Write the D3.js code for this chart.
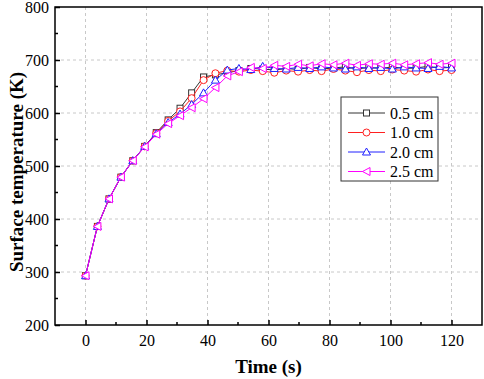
<!DOCTYPE html>
<html>
<head>
<meta charset="utf-8">
<script src="https://cdn.jsdelivr.net/npm/d3@7"></script>
<style>
  body { margin: 0; background: #fff; }
  text { font-family: "Liberation Serif", "Times New Roman", serif; }
</style>
</head>
<body>
<div id="chart"></div>
<script>
// time points (s)
const times = [0, 3.9, 7.7, 11.6, 15.5, 19.4, 23.2, 27.1, 31.0, 34.8, 38.7, 42.6, 46.5, 50.3, 54.2, 58.1,
  61.9, 65.8, 69.7, 73.5, 77.4, 81.3, 85.2, 89.0, 92.9, 96.8, 100.6, 104.5, 108.4, 112.3, 116.1, 120];

const t05 = [293, 386, 438, 479, 510, 537, 563, 587, 609, 638, 668, 672, 676, 680, 684, 683,
  681, 684, 682, 686, 683, 685, 687, 683, 686, 684, 687, 684, 685, 688, 685, 686];
const t10 = [293, 386, 438, 479, 510, 537, 562, 585, 603, 628, 662, 675, 680, 678, 681, 679,
  676, 680, 678, 681, 679, 683, 680, 677, 681, 679, 682, 680, 678, 682, 679, 681];
const t20 = [293, 386, 438, 479, 510, 537, 561, 582, 598, 616, 638, 662, 681, 684, 682, 688,
  684, 683, 686, 684, 687, 685, 683, 687, 684, 686, 683, 687, 685, 684, 688, 685];
const t25 = [293, 386, 438, 479, 510, 536, 560, 580, 595, 610, 627, 648, 670, 678, 686, 684,
  690, 688, 692, 689, 693, 691, 694, 690, 693, 692, 694, 691, 693, 695, 692, 694];

const labels = ["0.5 cm", "1.0 cm", "2.0 cm", "2.5 cm"];
const colors = ["#333333", "#ff2020", "#2020ff", "#ff00ff"];
const symbols = ["square", "circle", "triangle", "left"];
const seriesVals = [t05, t10, t20, t25];

const xTicks = [0, 20, 40, 60, 80, 100, 120];
const yTicks = [200, 300, 400, 500, 600, 700, 800];

const W = 484, H = 379;
const margin = {top: 7, right: 2, bottom: 54, left: 55};
const width = W - margin.left - margin.right;
const height = H - margin.top - margin.bottom;

const svg = d3.select("#chart").append("svg")
    .attr("width", W)
    .attr("height", H);

const g = svg.append("g")
    .attr("transform", `translate(${margin.left},${margin.top})`);

const x = d3.scaleLinear().domain([-10, 130]).range([0, width]);
const y = d3.scaleLinear().domain([200, 800]).range([height, 0]);

// grid
g.append("g").selectAll("line")
    .data(xTicks)
    .enter().append("line")
    .attr("x1", d => x(d)).attr("x2", d => x(d))
    .attr("y1", 0).attr("y2", height)
    .attr("stroke", "#c8c8c8")
    .attr("stroke-dasharray", "3,3");
g.append("g").selectAll("line")
    .data(yTicks.slice(1, -1))
    .enter().append("line")
    .attr("x1", 0).attr("x2", width)
    .attr("y1", d => y(d)).attr("y2", d => y(d))
    .attr("stroke", "#c8c8c8")
    .attr("stroke-dasharray", "3,3");

// axes: ticks point inward
const xAxis = d3.axisBottom(x).tickValues(xTicks).tickSize(-5).tickPadding(10).tickFormat(d3.format("d"));
const yAxis = d3.axisLeft(y).tickValues(yTicks).tickSize(-5).tickPadding(6);

const gx = g.append("g")
    .attr("transform", `translate(0,${height})`)
    .call(xAxis);
const gy = g.append("g").call(yAxis);

[gx, gy].forEach(a => {
    a.select(".domain").remove();
    a.selectAll("line").attr("stroke", "#000").attr("stroke-width", 1.5);
    a.selectAll("text").attr("font-size", 16).attr("fill", "#000")
        .style("font-family", "'Liberation Serif', serif");
});

// minor ticks
g.append("g").selectAll("line")
    .data([10, 30, 50, 70, 90, 110])
    .enter().append("line")
    .attr("x1", d => x(d)).attr("x2", d => x(d))
    .attr("y1", height).attr("y2", height - 3)
    .attr("stroke", "#000").attr("stroke-width", 1.5);
g.append("g").selectAll("line")
    .data([250, 350, 450, 550, 650, 750])
    .enter().append("line")
    .attr("x1", 0).attr("x2", 3)
    .attr("y1", d => y(d)).attr("y2", d => y(d))
    .attr("stroke", "#000").attr("stroke-width", 1.5);

// frame
g.append("rect")
    .attr("width", width).attr("height", height)
    .attr("fill", "none").attr("stroke", "#000").attr("stroke-width", 1.5);

function drawMarker(sel, sym, color) {
    if (sym === "square") {
        sel.append("rect").attr("x", -3).attr("y", -3).attr("width", 6).attr("height", 6)
            .attr("fill", "#fff").attr("stroke", color);
    } else if (sym === "circle") {
        sel.append("circle").attr("r", 3.5).attr("fill", "#fff").attr("stroke", color);
    } else if (sym === "triangle") {
        sel.append("path").attr("d", "M0,-4L4,3L-4,3Z").attr("fill", "#fff").attr("stroke", color);
    } else {
        sel.append("path").attr("d", "M-4,0L3.5,-4L3.5,4Z").attr("fill", "#fff").attr("stroke", color);
    }
}

const line = d3.line()
    .x((d, i) => x(times[i]))
    .y(d => y(d));

seriesVals.forEach((vals, s) => {
    g.append("path")
        .datum(vals)
        .attr("fill", "none")
        .attr("stroke", colors[s])
        .attr("stroke-width", 1)
        .attr("d", line);
    g.append("g").selectAll("g")
        .data(vals)
        .enter().append("g")
        .attr("transform", (d, i) => `translate(${x(times[i])},${y(d)})`)
        .each(function() { drawMarker(d3.select(this), symbols[s], colors[s]); });
});

// legend
const lg = svg.append("g").attr("transform", "translate(341,97)");
lg.append("rect").attr("width", 97).attr("height", 84)
    .attr("fill", "#fff").attr("stroke", "#333").attr("stroke-width", 1);
labels.forEach((lab, i) => {
    const row = lg.append("g").attr("transform", `translate(0,${16 + i * 19.5})`);
    row.append("line").attr("x1", 7).attr("x2", 44).attr("y1", 0).attr("y2", 0)
        .attr("stroke", colors[i]);
    drawMarker(row.append("g").attr("transform", "translate(25.5,0)"), symbols[i], colors[i]);
    row.append("text").attr("x", 49).attr("y", 5.5)
        .attr("font-size", 16).text(lab);
});

// axis titles
svg.append("text")
    .attr("x", margin.left + x(60))
    .attr("y", 373)
    .attr("text-anchor", "middle")
    .attr("font-size", 19).attr("font-weight", "bold")
    .text("Time (s)");
svg.append("text")
    .attr("transform", `translate(23,${margin.top + height / 2 + 6}) rotate(-90)`)
    .attr("text-anchor", "middle")
    .attr("font-size", 19).attr("font-weight", "bold")
    .text("Surface temperature (K)");
</script>
</body>
</html>
